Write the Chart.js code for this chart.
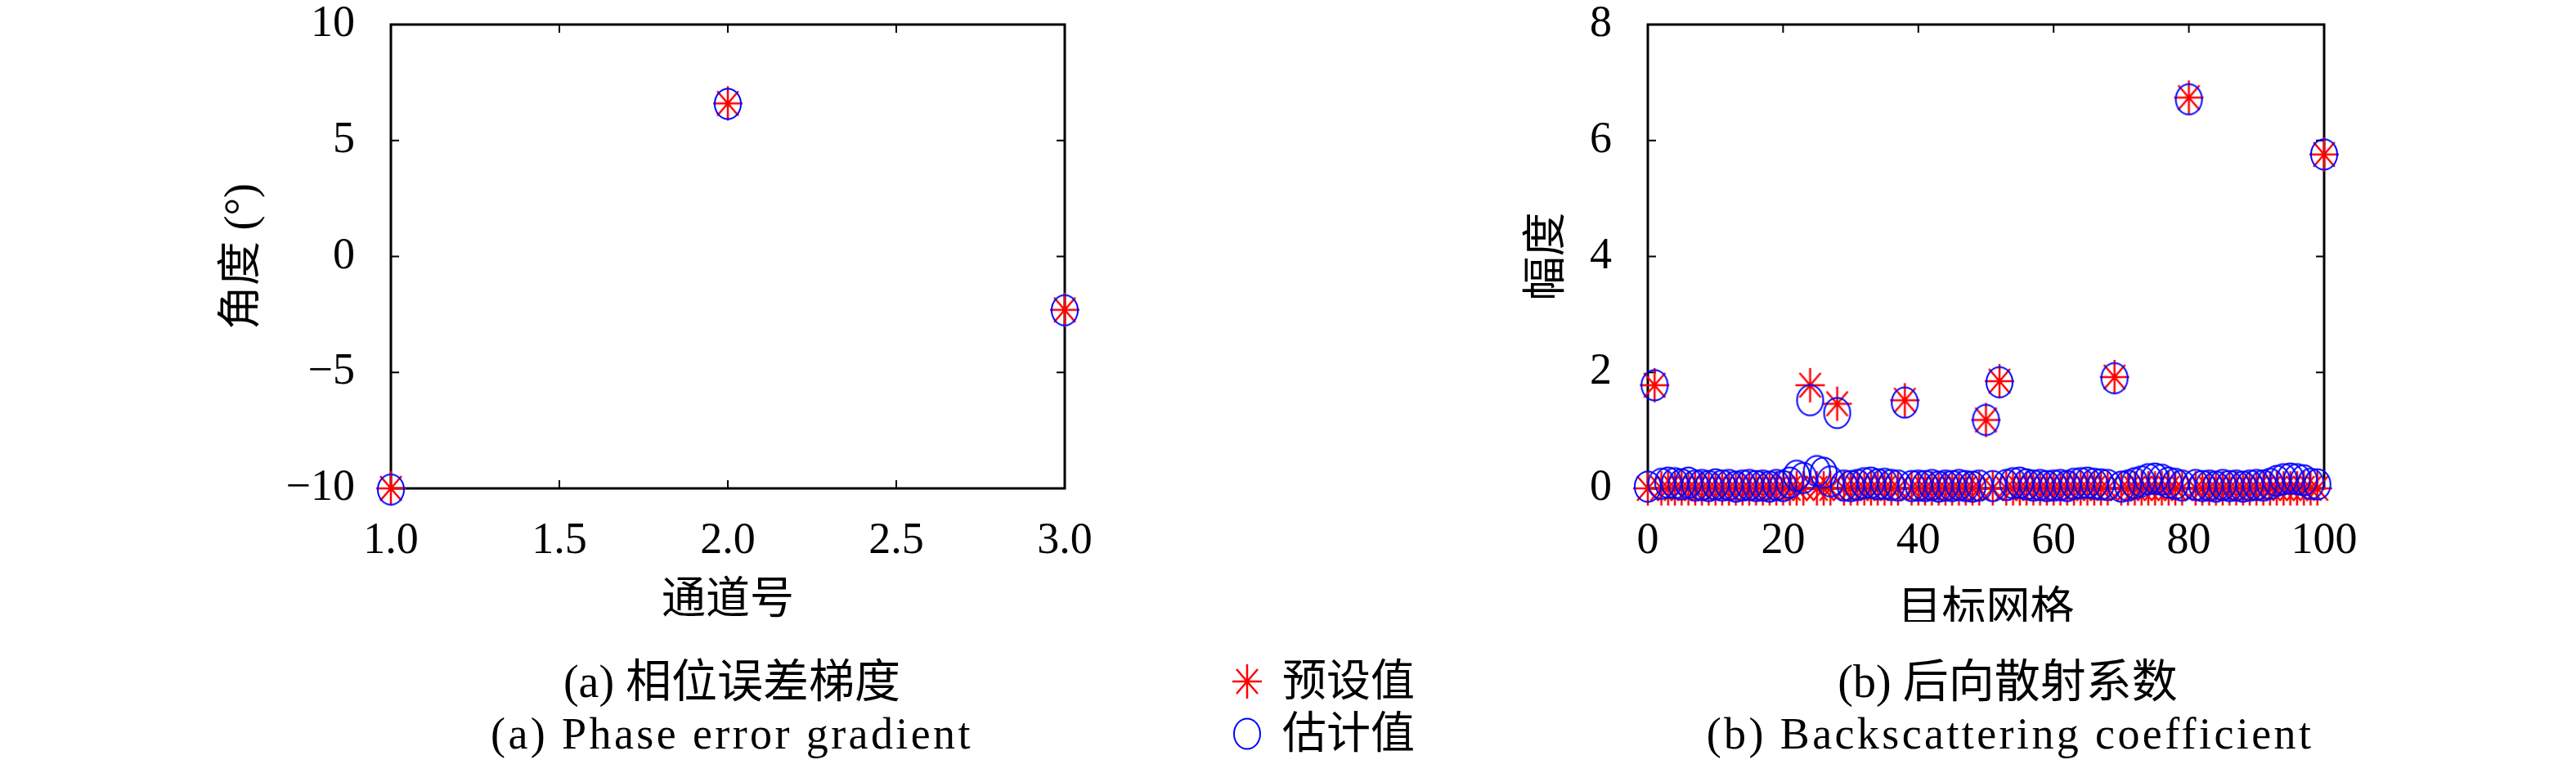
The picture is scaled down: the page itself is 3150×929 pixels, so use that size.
<!DOCTYPE html>
<html>
<head>
<meta charset="utf-8">
<script src="https://cdn.jsdelivr.net/npm/chart.js@4.4.1/dist/chart.umd.min.js"></script>
<style>
	body { margin: 0; background: #fff; }
	#page { position: relative; width: 3150px; height: 929px; overflow: hidden; font-family: "Liberation Serif", "Noto Sans CJK SC", serif; color: #000; }
	.wrap { position: absolute; top: 0; }
	.cap { position: absolute; font-size: 56px; line-height: 1; white-space: nowrap; transform: translate(-50%, -50%); }
	.cap.en { font-size: 54px; letter-spacing: 3.4px; }
	.leg { position: absolute; font-size: 54px; line-height: 1; white-space: nowrap; transform: translateY(-50%); }
	.mark { position: absolute; transform: translate(-50%, -50%); line-height: 0; }
</style>
</head>
<body>
<div id="page">
	<div class="wrap" style="left:250px"><canvas id="phaseChart" width="1150" height="760"></canvas></div>
	<div class="wrap" style="left:1800px"><canvas id="scatterChart" width="1150" height="760"></canvas></div>

	<div class="cap" style="left:895px; top:833px">(a) 相位误差梯度</div>
	<div class="cap en" style="left:895px; top:897px">(a) Phase error gradient</div>
	<div class="cap" style="left:2455px; top:833px">(b) 后向散射系数</div>
	<div class="cap en" style="left:2458px; top:897px">(b) Backscattering coefficient</div>

	<div class="mark" id="legStar" style="left:1525px; top:833px"></div>
	<div class="leg" style="left:1568px; top:833px">预设值</div>
	<div class="mark" id="legCircle" style="left:1525px; top:897px"></div>
	<div class="leg" style="left:1568px; top:897px">估计值</div>
</div>

<script>
// (a) phase error gradient
const channels = [1, 2, 3];
const phasePreset = [-10, 6.6, -2.3];
const phaseEstimate = [-10.05, 6.58, -2.32];
const phaseXTicks = [1.0, 1.5, 2.0, 2.5, 3.0];
const phaseYTicks = [-10, -5, 0, 5, 10];

// (b) backscattering coefficient
const gridCells = [
	0, 1, 2, 3, 4, 5, 6, 7, 8, 9, 10, 11, 12, 13, 14, 15, 16, 17, 18, 19,
	20, 21, 22, 23, 24, 25, 26, 27, 28, 29, 30, 31, 32, 33, 34, 35, 36, 37, 38, 39,
	40, 41, 42, 43, 44, 45, 46, 47, 48, 49, 50, 51, 52, 53, 54, 55, 56, 57, 58, 59,
	60, 61, 62, 63, 64, 65, 66, 67, 68, 69, 70, 71, 72, 73, 74, 75, 76, 77, 78, 79,
	80, 81, 82, 83, 84, 85, 86, 87, 88, 89, 90, 91, 92, 93, 94, 95, 96, 97, 98, 99, 100
];
const ampPreset = [
	0, 1.78, 0, 0, 0, 0, 0, 0, 0, 0, 0, 0, 0, 0, 0, 0, 0, 0, 0, 0,
	0, 0, 0, 0, 1.78, 0, 0, 0, 1.46, 0, 0, 0, 0, 0, 0, 0, 0, 0, 1.52, 0,
	0, 0, 0, 0, 0, 0, 0, 0, 0, 0, 1.18, 0, 1.85, 0, 0, 0, 0, 0, 0, 0,
	0, 0, 0, 0, 0, 0, 0, 0, 0, 1.92, 0, 0, 0, 0, 0, 0, 0, 0, 0, 0,
	6.74, 0, 0, 0, 0, 0, 0, 0, 0, 0, 0, 0, 0, 0, 0, 0, 0, 0, 0, 0, 5.76
];
const ampEstimate = [
	0.03, 1.78, 0.08, 0.10, 0.09, 0.07, 0.10, 0.05, 0.06, 0.04, 0.07, 0.05, 0.06, 0.03, 0.05, 0.06, 0.04, 0.05, 0.03, 0.06,
	0.04, 0.10, 0.22, 0.18, 1.52, 0.30, 0.27, 0.12, 1.30, 0.05, 0.04, 0.06, 0.09, 0.10, 0.07, 0.08, 0.06, 0.05, 1.48, 0.04,
	0.05, 0.04, 0.06, 0.03, 0.05, 0.04, 0.06, 0.04, 0.03, 0.05, 1.18, 0.04, 1.83, 0.06, 0.09, 0.10, 0.07, 0.05, 0.06, 0.04,
	0.05, 0.06, 0.04, 0.08, 0.09, 0.10, 0.08, 0.07, 0.06, 1.90, 0.03, 0.05, 0.09, 0.12, 0.16, 0.17, 0.15, 0.10, 0.08, 0.05,
	6.71, 0.06, 0.04, 0.05, 0.03, 0.06, 0.04, 0.05, 0.03, 0.05, 0.06, 0.05, 0.08, 0.13, 0.16, 0.17, 0.16, 0.14, 0.08, 0.07, 5.76
];
const ampXTicks = [0, 20, 40, 60, 80, 100];
const ampYTicks = [0, 2, 4, 6, 8];

const serif = "'Liberation Serif', 'Noto Sans CJK SC', serif";

// MATLAB-like markers (slightly taller than wide, like the original figure)
function makeStar() {
	const c = document.createElement('canvas');
	c.width = 40; c.height = 46;
	const g = c.getContext('2d');
	g.strokeStyle = '#ff0000';
	g.lineWidth = 2.5;
	g.beginPath();
	g.moveTo(2, 23); g.lineTo(38, 23);
	g.moveTo(20, 2); g.lineTo(20, 44);
	g.moveTo(7, 8); g.lineTo(33, 38);
	g.moveTo(33, 8); g.lineTo(7, 38);
	g.stroke();
	return c;
}

function makeCircle() {
	const c = document.createElement('canvas');
	c.width = 38; c.height = 42;
	const g = c.getContext('2d');
	g.strokeStyle = '#0000ff';
	g.lineWidth = 2;
	g.beginPath();
	g.ellipse(19, 21, 16, 18.5, 0, 0, Math.PI * 2);
	g.stroke();
	return c;
}

// box around the plot with inward ticks on all four sides
const boxPlugin = {
	id: 'box',
	beforeDatasetsDraw(chart) {
		const { ctx, chartArea: a, scales: { x, y } } = chart;
		ctx.save();
		ctx.strokeStyle = '#000';
		ctx.lineWidth = 2;
		ctx.beginPath();
		x.ticks.forEach(t => {
			const px = x.getPixelForValue(t.value);
			ctx.moveTo(px, a.bottom); ctx.lineTo(px, a.bottom - 10);
			ctx.moveTo(px, a.top); ctx.lineTo(px, a.top + 10);
		});
		y.ticks.forEach(t => {
			const py = y.getPixelForValue(t.value);
			ctx.moveTo(a.left, py); ctx.lineTo(a.left + 10, py);
			ctx.moveTo(a.right, py); ctx.lineTo(a.right - 10, py);
		});
		ctx.stroke();
		ctx.lineWidth = 3;
		ctx.strokeRect(a.left, a.top, a.right - a.left, a.bottom - a.top);
		ctx.restore();
	}
};

function minus(v) {
	return String(v).replace('-', '\u2212');
}

function buildChart(id, cfg) {
	const ctx = document.getElementById(id);
	if (!ctx) return;

	new Chart(ctx, {
		type: 'scatter',
		data: {
			datasets: [
				{
					label: '预设值',
					data: cfg.xs.map((v, i) => ({ x: v, y: cfg.preset[i] })),
					pointStyle: makeStar(),
					pointRadius: 6,
					clip: false,
					order: 1
				},
				{
					label: '估计值',
					data: cfg.xs.map((v, i) => ({ x: v, y: cfg.estimate[i] })),
					pointStyle: makeCircle(),
					pointRadius: 6,
					clip: false,
					order: 0
				}
			]
		},
		options: {
			responsive: false,
			animation: false,
			events: [],
			layout: {
				padding: { top: 30, right: cfg.padRight, left: 0, bottom: 0 }
			},
			plugins: {
				legend: { display: false },
				tooltip: { enabled: false }
			},
			scales: {
				x: {
					type: 'linear',
					min: cfg.xTicks[0],
					max: cfg.xTicks[cfg.xTicks.length - 1],
					afterFit: s => { s.height = 163; },
					afterBuildTicks: s => { s.ticks = cfg.xTicks.map(v => ({ value: v })); },
					grid: { display: false },
					border: { display: false },
					ticks: {
						padding: 30,
						color: '#000',
						maxRotation: 0,
						autoSkip: false,
						font: { family: serif, size: 54, lineHeight: 1 },
						callback: cfg.xFormat
					},
					title: {
						display: true,
						text: cfg.xTitle,
						color: '#000',
						font: { family: serif, size: 54, lineHeight: 1.2 },
						padding: { top: 0, bottom: cfg.xTitlePad }
					}
				},
				y: {
					type: 'linear',
					min: cfg.yTicks[0],
					max: cfg.yTicks[cfg.yTicks.length - 1],
					afterFit: s => {
						s.width = cfg.yWidth;
						s.paddingTop = 0;
						s.paddingBottom = 0;
					},
					afterBuildTicks: s => { s.ticks = cfg.yTicks.map(v => ({ value: v })); },
					grid: { display: false },
					border: { display: false },
					ticks: {
						padding: 36,
						color: '#000',
						font: { family: serif, size: 54, lineHeight: 1 },
						callback: v => minus(v)
					},
					title: {
						display: true,
						text: cfg.yTitle,
						color: '#000',
						font: { family: serif, size: 54, lineHeight: 1.2 },
						padding: { top: cfg.yTitlePad, bottom: 0 }
					}
				}
			}
		},
		plugins: [boxPlugin]
	});
}

document.addEventListener('DOMContentLoaded', () => {
	buildChart('phaseChart', {
		xs: channels,
		preset: phasePreset,
		estimate: phaseEstimate,
		xTicks: phaseXTicks,
		yTicks: phaseYTicks,
		xFormat: v => v.toFixed(1),
		xTitle: '通道号',
		yTitle: '角度 (°)',
		yWidth: 228,
		padRight: 98,
		xTitlePad: -8,
		yTitlePad: 15
	});

	buildChart('scatterChart', {
		xs: gridCells,
		preset: ampPreset,
		estimate: ampEstimate,
		xTicks: ampXTicks,
		yTicks: ampYTicks,
		xFormat: v => String(v),
		xTitle: '目标网格',
		yTitle: '幅度',
		yWidth: 215,
		padRight: 108,
		xTitlePad: -20,
		yTitlePad: 61
	});

	document.getElementById('legStar').appendChild(makeStar());
	document.getElementById('legCircle').appendChild(makeCircle());
});
</script>
</body>
</html>
